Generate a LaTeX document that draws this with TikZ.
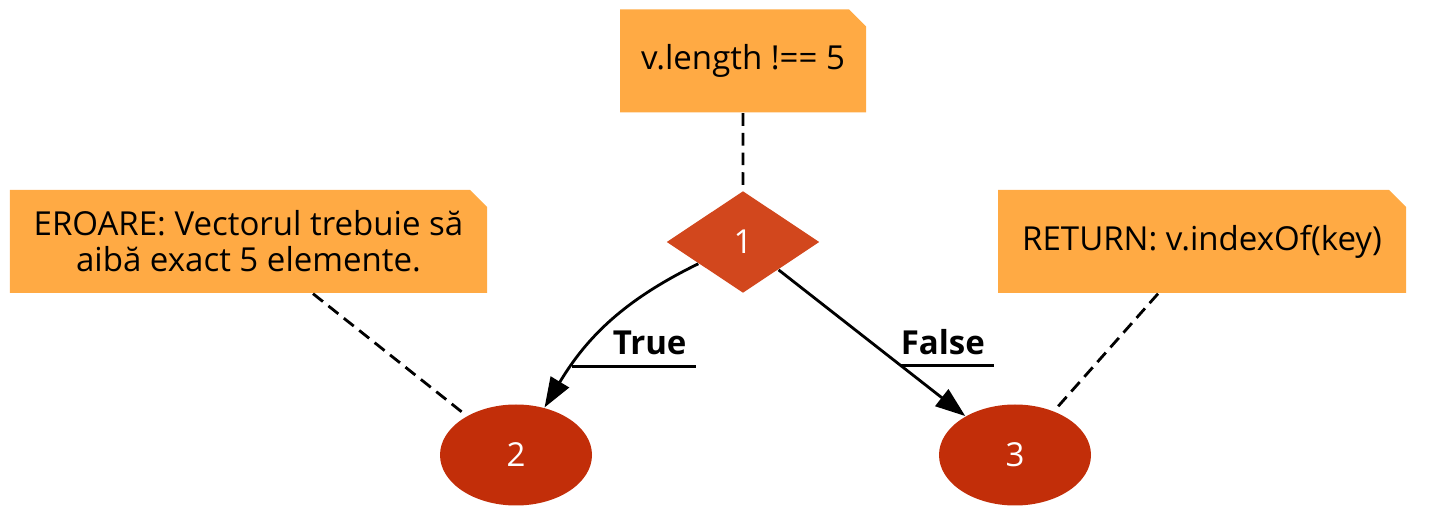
\documentclass[tikz,border=0pt]{standalone}
\usepackage{fontspec}
\setmainfont{Open Sans}
\usetikzlibrary{shapes.geometric,shapes.misc,arrows.meta}
\definecolor{noteorange}{HTML}{FFAA44}
\definecolor{testred}{HTML}{D2471D}
\definecolor{endred}{HTML}{C22E09}

\tikzset{
  notebox/.style={chamfered rectangle, chamfered rectangle corners=north east,
    chamfered rectangle xsep=0.085cm, chamfered rectangle ysep=0.085cm,
    fill=noteorange, inner sep=0pt, minimum height=1.03cm, align=center},
  decnode/.style={diamond, fill=testred, text=white, inner sep=0pt,
    minimum width=1.53cm, minimum height=1.02cm},
  endnode/.style={ellipse, fill=endred, text=white, inner sep=0pt,
    minimum width=1.52cm, minimum height=1.01cm},
  flow/.style={thick, -{Triangle[length=8.5pt,width=6pt]}},
  link/.style={thick, dash pattern=on 3.6pt off 2pt},
  edgelabel/.style={font=\fontsize{9.4}{10.3}\selectfont\bfseries,
    inner xsep=2.4pt, inner ysep=3pt}
}

\begin{document}
\begin{tikzpicture}[font=\fontsize{9.4}{10.3}\selectfont]
  \useasboundingbox (0,0) rectangle (14.31,5.31);

  % notes
  \node[notebox, minimum width=2.46cm] (n1) at (7.43,4.70) {v.length !== 5};
  \node[notebox, minimum width=4.77cm] (n2) at (2.485,2.895)
    {EROARE: Vectorul trebuie să\\aibă exact 5 elemente.};
  \node[notebox, minimum width=4.08cm] (n3) at (12.02,2.895) {RETURN: v.indexOf(key)};

  % graph nodes
  \node[decnode] (d1) at (7.43,2.89) {1};
  \node[endnode] (e2) at (5.16,0.76) {2};
  \node[endnode] (e3) at (10.15,0.76) {3};

  % dashed links to the notes
  \draw[link] (n1) -- (d1);
  \draw[link] ([xshift=0.645cm]n2.south) -- (e2);
  \draw[link] ([xshift=-0.44cm]n3.south) -- (e3);

  % branches
  \draw[flow] (d1) to[out=206,in=59] coordinate[pos=0.785] (ut) (e2);
  \draw[flow] (d1) -- coordinate[pos=0.656] (uf) (e3);

  \node[edgelabel, anchor=south east] (lt) at ([xshift=1.24cm]ut) {True};
  \node[edgelabel, anchor=south east] (lf) at ([xshift=0.93cm]uf) {False};
  \draw[thick] (ut) -- (ut -| lt.south east);
  \draw[thick] (uf) -- (uf -| lf.south east);
\end{tikzpicture}
\end{document}
